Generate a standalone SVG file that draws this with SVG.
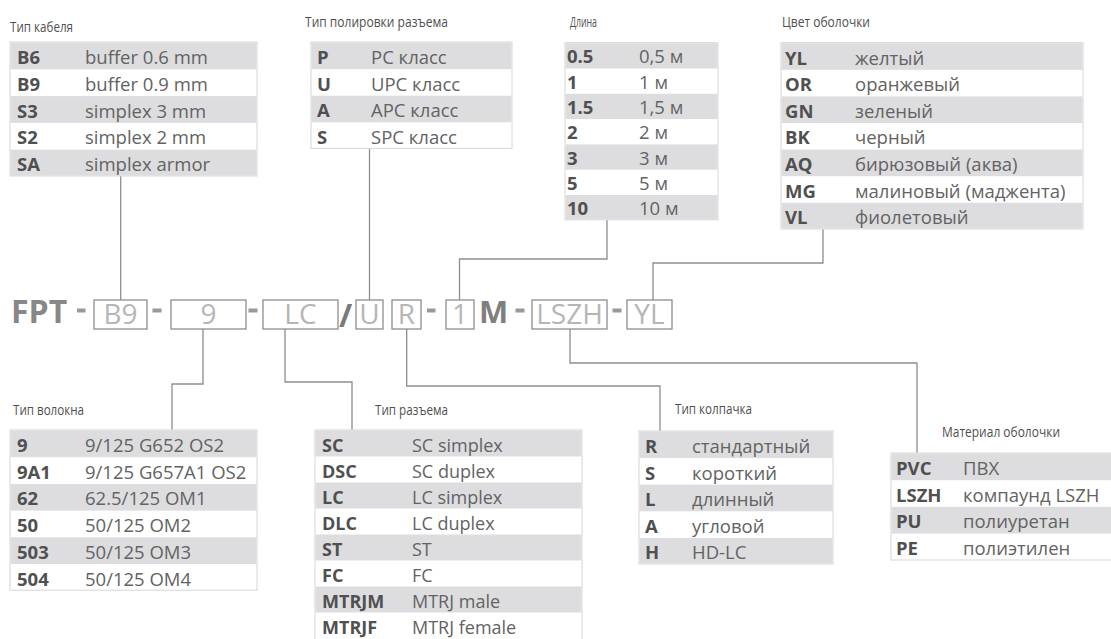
<svg xmlns="http://www.w3.org/2000/svg" width="1111" height="639" viewBox="0 0 1111 639">
<style>
.bg{fill:#ffffff}
.tb{fill:#ffffff;stroke:#d6d6d8;stroke-width:1}
.g{fill:#dddddf}
.k{font-family:"Open Sans","Noto Sans",sans-serif;font-weight:700;font-size:18.5px;fill:#505050}
.v{font-family:"Open Sans","Noto Sans",sans-serif;font-size:18.5px;fill:#636363}
.s{font-size:18px}
.t{font-family:"Open Sans","Noto Sans",sans-serif;font-size:15px;fill:#4f4f4f}
.box{fill:#ffffff;stroke:#8e8e8e;stroke-width:1.3}
.bt{font-family:"Open Sans","Noto Sans",sans-serif;font-size:28px;fill:#b6b6b6;text-anchor:middle}
.big{font-family:"Open Sans","Noto Sans",sans-serif;font-weight:700;fill:#878787}
.dash{fill:#999999}
.c{fill:none;stroke:#8e8e8e;stroke-width:1.3}
</style>
<rect class="bg" x="0" y="0" width="1111" height="639"/>

<g id="connectors">
<path class="c" d="M120.7 176 V300"/>
<path class="c" d="M369.5 148.4 V300"/>
<path class="c" d="M607 220 V259 H459.5 V300"/>
<path class="c" d="M823 229 V263 H653 V300"/>
<path class="c" d="M203 329 V384 H172 V430"/>
<path class="c" d="M285 329 V382 H352 V430"/>
<path class="c" d="M406.7 329 V386 H660 V431"/>
<path class="c" d="M570 329 V363 H917 V453"/>
</g>

<g id="cable-type">
<text class="t" x="10" y="32" textLength="63" lengthAdjust="spacingAndGlyphs">Тип кабеля</text>
<rect class="tb" x="10" y="42" width="247" height="134"/>
<rect class="g" x="10.5" y="42.5" width="246" height="26.8"/>
<rect class="g" x="10.5" y="96.1" width="246" height="26.8"/>
<rect class="g" x="10.5" y="149.7" width="246" height="26"/>
<text class="k" x="17" y="64">B6</text><text class="v" x="85" y="64">buffer 0.6 mm</text>
<text class="k" x="17" y="90.8">B9</text><text class="v" x="85" y="90.8">buffer 0.9 mm</text>
<text class="k" x="17" y="117.6">S3</text><text class="v" x="85" y="117.6">simplex 3 mm</text>
<text class="k" x="17" y="144.4">S2</text><text class="v" x="85" y="144.4">simplex 2 mm</text>
<text class="k" x="17" y="171.2">SA</text><text class="v" x="85" y="171.2">simplex armor</text>
</g>

<g id="polish-type">
<text class="t" x="305" y="27" textLength="143" lengthAdjust="spacingAndGlyphs">Тип полировки разъема</text>
<rect class="tb" x="311" y="42" width="201" height="106.4"/>
<rect class="g" x="311.5" y="42.5" width="200" height="26.6"/>
<rect class="g" x="311.5" y="95.7" width="200" height="26.6"/>
<text class="k" x="317" y="64">P</text><text class="v" x="371" y="64">PC класс</text>
<text class="k" x="317" y="90.6">U</text><text class="v" x="371" y="90.6">UPC класс</text>
<text class="k" x="317" y="117.2">A</text><text class="v" x="371" y="117.2">APC класс</text>
<text class="k" x="317" y="143.8">S</text><text class="v" x="371" y="143.8">SPC класс</text>
</g>

<g id="length">
<text class="t" x="570" y="27" textLength="27" lengthAdjust="spacingAndGlyphs">Длина</text>
<rect class="tb" x="565" y="42.7" width="153" height="177.1"/>
<rect class="g" x="565.5" y="43.2" width="152" height="25.3"/>
<rect class="g" x="565.5" y="93.8" width="152" height="25.3"/>
<rect class="g" x="565.5" y="144.4" width="152" height="25.3"/>
<rect class="g" x="565.5" y="195" width="152" height="24.3"/>
<text class="k" x="567" y="63.3">0.5</text><text class="v" x="639" y="63.3">0,5 м</text>
<text class="k" x="567" y="88.6">1</text><text class="v" x="639" y="88.6">1 м</text>
<text class="k" x="567" y="113.9">1.5</text><text class="v" x="639" y="113.9">1,5 м</text>
<text class="k" x="567" y="139.2">2</text><text class="v" x="639" y="139.2">2 м</text>
<text class="k" x="567" y="164.5">3</text><text class="v" x="639" y="164.5">3 м</text>
<text class="k" x="567" y="189.8">5</text><text class="v" x="639" y="189.8">5 м</text>
<text class="k" x="567" y="215.1">10</text><text class="v" x="639" y="215.1">10 м</text>
</g>

<g id="sheath-color">
<text class="t" x="782" y="27" textLength="88" lengthAdjust="spacingAndGlyphs">Цвет оболочки</text>
<rect class="tb" x="781" y="42.7" width="302" height="186.3"/>
<rect class="g" x="781.5" y="43.2" width="301" height="26.6"/>
<rect class="g" x="781.5" y="96.4" width="301" height="26.6"/>
<rect class="g" x="781.5" y="149.6" width="301" height="26.6"/>
<rect class="g" x="781.5" y="202.8" width="301" height="25.7"/>
<text class="k" x="785" y="64.5">YL</text><text class="v" x="855" y="64.5">желтый</text>
<text class="k" x="785" y="91.1">OR</text><text class="v" x="855" y="91.1">оранжевый</text>
<text class="k" x="785" y="117.7">GN</text><text class="v" x="855" y="117.7">зеленый</text>
<text class="k" x="785" y="144.3">BK</text><text class="v" x="855" y="144.3">черный</text>
<text class="k" x="785" y="170.9">AQ</text><text class="v" x="855" y="170.9">бирюзовый (аква)</text>
<text class="k" x="785" y="197.5">MG</text><text class="v" x="855" y="197.5">малиновый (маджента)</text>
<text class="k" x="785" y="224.1">VL</text><text class="v" x="855" y="224.1">фиолетовый</text>
</g>

<g id="code">
<text class="big" x="11" y="323" font-size="32">FPT</text>
<rect class="dash" x="77" y="308.5" width="8.5" height="4"/>
<rect class="dash" x="152.5" y="308.5" width="9" height="4"/>
<rect class="dash" x="248.5" y="308.5" width="9" height="4"/>
<rect class="dash" x="427" y="308.5" width="8.5" height="4"/>
<rect class="dash" x="515.5" y="308.5" width="9" height="4"/>
<rect class="dash" x="612.5" y="308.5" width="9" height="4"/>
<text class="big" x="339" y="327" font-size="32" style="fill:#7a7a7a">/</text>
<text class="big" x="479" y="323" font-size="31" style="fill:#7f7f7f">M</text>
</g>

<g id="box-b9"><rect class="box" x="94" y="300" width="53" height="29"/><text class="bt" x="120.5" y="324">B9</text></g>
<g id="box-9"><rect class="box" x="171" y="300" width="75" height="29"/><text class="bt" x="208.5" y="324">9</text></g>
<g id="box-lc"><rect class="box" x="263" y="300" width="75" height="29"/><text class="bt" x="300.5" y="324">LC</text></g>
<g id="box-u"><rect class="box" x="356" y="300" width="27" height="29"/><text class="bt" x="369.5" y="324">U</text></g>
<g id="box-r"><rect class="box" x="392" y="300" width="29" height="29"/><text class="bt" x="406.5" y="324">R</text></g>
<g id="box-1"><rect class="box" x="446" y="300" width="28" height="29"/><text class="bt" x="460" y="324">1</text></g>
<g id="box-lszh"><rect class="box" x="532" y="300" width="75" height="29"/><text class="bt" x="569.5" y="324">LSZH</text></g>
<g id="box-yl"><rect class="box" x="627" y="300" width="45" height="29"/><text class="bt" x="649.5" y="324">YL</text></g>

<g id="fiber-type">
<text class="t" x="13" y="415" textLength="71" lengthAdjust="spacingAndGlyphs">Тип волокна</text>
<rect class="tb" x="10" y="430" width="247" height="160.2"/>
<rect class="g" x="10.5" y="430.5" width="246" height="26.7"/>
<rect class="g" x="10.5" y="483.9" width="246" height="26.7"/>
<rect class="g" x="10.5" y="537.3" width="246" height="26.7"/>
<text class="k" x="17" y="452">9</text><text class="v" x="85" y="452">9/125 G652 OS2</text>
<text class="k" x="17" y="478.7">9A1</text><text class="v" x="85" y="478.7">9/125 G657A1 OS2</text>
<text class="k" x="17" y="505.4">62</text><text class="v" x="85" y="505.4">62.5/125 OM1</text>
<text class="k" x="17" y="532.1">50</text><text class="v" x="85" y="532.1">50/125 OM2</text>
<text class="k" x="17" y="558.8">503</text><text class="v" x="85" y="558.8">50/125 OM3</text>
<text class="k" x="17" y="585.5">504</text><text class="v" x="85" y="585.5">50/125 OM4</text>
</g>

<g id="connector-type">
<text class="t" x="375" y="415" textLength="73" lengthAdjust="spacingAndGlyphs">Тип разъема</text>
<rect class="tb" x="315" y="430" width="267" height="220"/>
<rect class="g" x="315.5" y="430.5" width="266" height="26"/>
<rect class="g" x="315.5" y="482.5" width="266" height="26"/>
<rect class="g" x="315.5" y="534.5" width="266" height="26"/>
<rect class="g" x="315.5" y="586.5" width="266" height="26"/>
<text class="k s" x="322" y="451.5">SC</text><text class="v s" x="412" y="451.5">SC simplex</text>
<text class="k s" x="322" y="477.5">DSC</text><text class="v s" x="412" y="477.5">SC duplex</text>
<text class="k s" x="322" y="503.5">LC</text><text class="v s" x="412" y="503.5">LC simplex</text>
<text class="k s" x="322" y="529.5">DLC</text><text class="v s" x="412" y="529.5">LC duplex</text>
<text class="k s" x="322" y="555.5">ST</text><text class="v s" x="412" y="555.5">ST</text>
<text class="k s" x="322" y="581.5">FC</text><text class="v s" x="412" y="581.5">FC</text>
<text class="k s" x="322" y="607.5">MTRJM</text><text class="v s" x="412" y="607.5">MTRJ male</text>
<text class="k s" x="322" y="633.5">MTRJF</text><text class="v s" x="412" y="633.5">MTRJ female</text>
</g>

<g id="cap-type">
<text class="t" x="675" y="414" textLength="77" lengthAdjust="spacingAndGlyphs">Тип колпачка</text>
<rect class="tb" x="639" y="431" width="194" height="133"/>
<rect class="g" x="639.5" y="431.5" width="193" height="26.6"/>
<rect class="g" x="639.5" y="484.7" width="193" height="26.6"/>
<rect class="g" x="639.5" y="537.9" width="193" height="25.6"/>
<text class="k" x="645" y="453">R</text><text class="v" x="692" y="453">стандартный</text>
<text class="k" x="645" y="479.6">S</text><text class="v" x="692" y="479.6">короткий</text>
<text class="k" x="645" y="506.2">L</text><text class="v" x="692" y="506.2">длинный</text>
<text class="k" x="645" y="532.8">A</text><text class="v" x="692" y="532.8">угловой</text>
<text class="k" x="645" y="559.4">H</text><text class="v" x="692" y="559.4">HD-LC</text>
</g>

<g id="sheath-material">
<text class="t" x="942" y="437" textLength="118" lengthAdjust="spacingAndGlyphs">Материал оболочки</text>
<rect class="tb" x="891" y="453" width="222" height="107"/>
<rect class="g" x="891.5" y="453.5" width="221" height="26.7"/>
<rect class="g" x="891.5" y="506.9" width="221" height="26.7"/>
<text class="k" x="896" y="475">PVC</text><text class="v" x="963" y="475">ПВХ</text>
<text class="k" x="896" y="501.7">LSZH</text><text class="v" x="963" y="501.7">компаунд LSZH</text>
<text class="k" x="896" y="528.4">PU</text><text class="v" x="963" y="528.4">полиуретан</text>
<text class="k" x="896" y="555.1">PE</text><text class="v" x="963" y="555.1">полиэтилен</text>
</g>
</svg>
